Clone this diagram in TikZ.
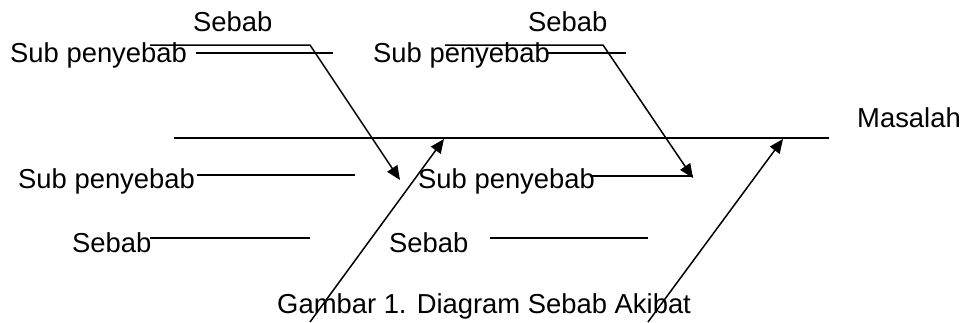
\documentclass[tikz,border=0pt]{standalone}
\usepackage{fontspec}
\setmainfont{Liberation Sans}
\usetikzlibrary{arrows.meta}
\begin{document}
\begin{tikzpicture}[x=1pt,y=-1pt,
  lbl/.style={anchor=base west,inner sep=0pt,font=\fontsize{27.4}{32}\selectfont},
  ln/.style={line width=1.5pt},
  arr/.style={line width=1.5pt,-{Triangle[length=14pt,width=12pt]}}]
\useasboundingbox (0,0) rectangle (961,322);
% texts
\node[lbl] (sebabA) at (193,31) {Sebab};
\node[lbl] (subA) at (10,62) {Sub penyebab};
\node[lbl] (sebabB) at (528,31) {Sebab};
\node[lbl] (subB) at (373,62) {Sub penyebab};
\node[lbl] (masalah) at (857,127) {Masalah};
\node[lbl] (subC) at (18,188) {Sub penyebab};
\node[lbl] (sebabC) at (72,252) {Sebab};
\node[lbl] (subD) at (418,188) {Sub penyebab};
\node[lbl] (sebabD) at (389,252) {Sebab};
\node[lbl] (caption) at (277,313) {Gambar 1. Diagram Sebab Akibat};
% coordinates
\coordinate (a1) at (150,45); \coordinate (a2) at (310,45); \coordinate (a3) at (400,180);
\coordinate (b1) at (196,53); \coordinate (b2) at (333,53);
\coordinate (s1) at (174,138); \coordinate (s2) at (829,138);
\coordinate (d1) at (310,322); \coordinate (d2) at (444,139);
\coordinate (c1) at (445,45); \coordinate (c2) at (603,45); \coordinate (c3) at (693,178);
\coordinate (e1) at (548,53); \coordinate (e2) at (626,53);
\coordinate (f1) at (648,322); \coordinate (f2) at (783,139);
\coordinate (g1) at (197,175); \coordinate (g2) at (355,175);
\coordinate (h1) at (150,238); \coordinate (h2) at (310,238);
\coordinate (i1) at (590,176); \coordinate (i2) at (693,176);
\coordinate (j1) at (490,238); \coordinate (j2) at (648,238);
% lines
\draw[ln] (s1) -- (s2);
\draw[arr] (a1) -- (a2) -- (a3);
\draw[ln] (b1) -- (b2);
\draw[arr] (d1) -- (d2);
\draw[arr] (c1) -- (c2) -- (c3);
\draw[ln] (e1) -- (e2);
\draw[arr] (f1) -- (f2);
\draw[ln] (g1) -- (g2);
\draw[ln] (h1) -- (h2);
\draw[ln] (i1) -- (i2);
\draw[ln] (j1) -- (j2);
\end{tikzpicture}
\end{document}
